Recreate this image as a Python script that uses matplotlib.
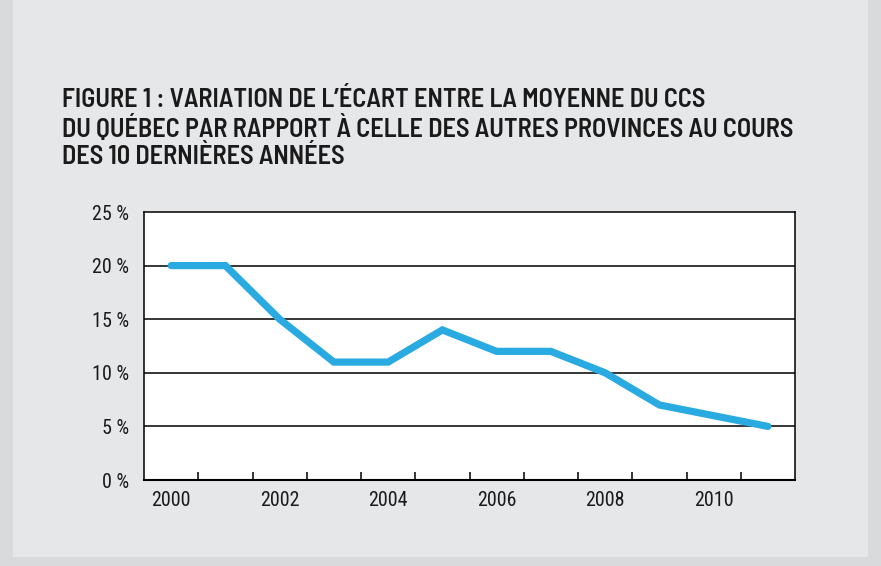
import matplotlib
matplotlib.use("Agg")
import matplotlib.pyplot as plt
from matplotlib.patches import Rectangle
from matplotlib import font_manager
import numpy as np

years = [2000, 2001, 2002, 2003, 2004, 2005, 2006, 2007, 2008, 2009, 2010, 2011]
values = [20, 20, 15, 11, 11, 14, 12, 12, 10, 7, 6, 5]
ytick_vals = [0, 5, 10, 15, 20, 25]
title_lines = ["FIGURE 1 : VARIATION DE L\u2019ÉCART ENTRE LA MOYENNE DU CCS",
               "DU QUÉBEC PAR RAPPORT À CELLE DES AUTRES PROVINCES AU COURS",
               "DES 10 DERNIÈRES ANNÉES"]

names = {f.name for f in font_manager.fontManager.ttflist}
weights = {}
for f in font_manager.fontManager.ttflist:
    weights.setdefault(f.name, set()).add(f.weight)

def pick(cands):
    for c in cands:
        if c in names:
            return c
    return "DejaVu Sans"

title_font = pick(["Barlow Semi Condensed", "Barlow", "Roboto Condensed", "Archivo Narrow", "DejaVu Sans"])
tw = weights.get(title_font, {400})
title_weight = 600 if 600 in tw else ("bold" if 700 in tw else 500 if 500 in tw else "normal")
tick_font = pick(["Roboto Condensed", "Archivo Narrow", "Barlow Semi Condensed", "DejaVu Sans"])

W, H = 881, 566
fig = plt.figure(figsize=(W/100, H/100), dpi=100)
fig.patch.set_facecolor("#d9dadc")
fig.patches.append(Rectangle((13/W, 9/H), (868-13)/W, (566-9)/H, transform=fig.transFigure,
                             facecolor="#e6e7e9", edgecolor="none", zorder=-5))
renderer = fig.canvas.get_renderer()

# title, fitted so that line 2 spans ~735 px
texts = []
for i, t in enumerate(title_lines):
    texts.append(fig.text(62/W, 1 - (100 + 28.5*i)/H, t, fontsize=15, fontweight=title_weight,
                          family=[title_font, "DejaVu Sans"], va="center", ha="left", color="#1a1a1a"))
w2 = texts[1].get_window_extent(renderer).width
scale = 735.0 / w2
for t in texts:
    t.set_fontsize(15 * scale)

# tick font size fitted so that "2000" spans ~39 px
probe = fig.text(0, 0, "2000", fontsize=12, family=[tick_font, "DejaVu Sans"])
tick_fs = 12 * 39.0 / probe.get_window_extent(renderer).width
probe.remove()

left, right, top, bottom = 144, 795, 212, 480
ax = fig.add_axes([left/W, 1-bottom/H, (right-left)/W, (bottom-top)/H])
ax.set_facecolor("white")
x = np.arange(len(years))
ax.plot(x, values, color="#29abe2", lw=5.2, solid_capstyle="round", solid_joinstyle="miter", zorder=3)
ax.set_xlim(-0.5, len(years)-0.5)
ax.set_ylim(0, 25)
ax.set_yticks(ytick_vals)
ax.set_yticklabels([f"{v} %" for v in ytick_vals], family=[tick_font, "DejaVu Sans"], fontsize=tick_fs,
                   color="#1a1a1a")
for v in ytick_vals[1:-1]:
    ax.axhline(v, color="black", lw=1.1, zorder=2)
ax.tick_params(axis="y", length=0, pad=11)
ax.set_xticks(np.arange(0.5, len(years)-1, 1.0))
ax.set_xticklabels([])
ax.tick_params(axis="x", direction="in", length=6, width=1.1)
ax.set_xticks(x[::2], minor=True)
ax.set_xticklabels([str(years[i]) for i in x[::2]], minor=True, family=[tick_font, "DejaVu Sans"],
                   fontsize=tick_fs, color="#1a1a1a")
ax.tick_params(axis="x", which="minor", length=0, pad=8)
for s in ["left", "bottom", "right", "top"]:
    ax.spines[s].set_linewidth(1.1)
ax.spines["bottom"].set_linewidth(1.5)

fig.savefig("out.png", dpi=100, facecolor=fig.get_facecolor())
